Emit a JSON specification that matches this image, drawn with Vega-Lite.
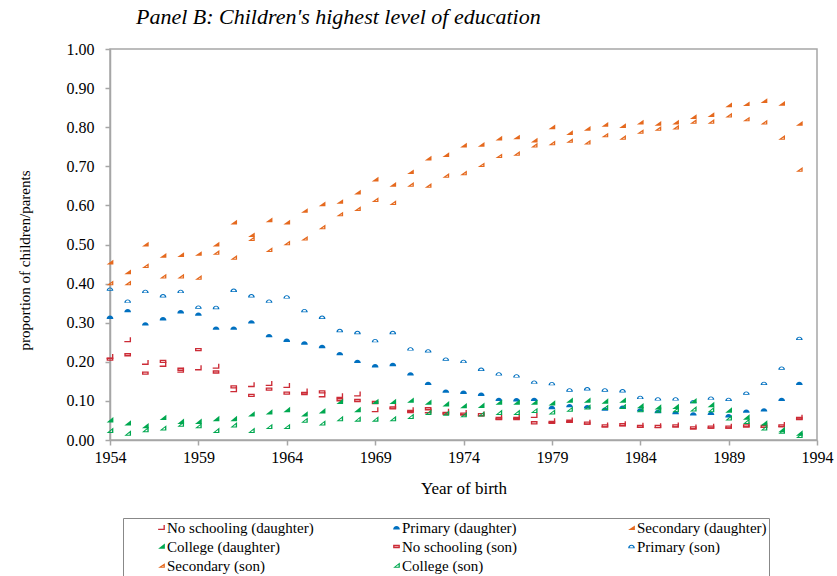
{
  "$schema": "https://vega.github.io/schema/vega-lite/v6.json",
  "width": 707,
  "height": 391,
  "autosize": {"type": "none"},
  "padding": {"left": 110, "top": 49, "right": 20, "bottom": 136},
  "background": "white",
  "title": {
    "text": "Panel B: Children's highest level of education",
    "anchor": "start",
    "frame": "group",
    "dx": 26,
    "dy": 26,
    "offset": 21,
    "baseline": "alphabetic",
    "font": "Liberation Serif",
    "fontSize": 22,
    "fontStyle": "italic",
    "fontWeight": "normal",
    "color": "black"
  },
  "config": {
    "font": "Liberation Serif",
    "style": {"guide-label": {"font": "Liberation Serif"}, "guide-title": {"font": "Liberation Serif"}},
    "view": {"stroke": "#A6A6A6", "strokeWidth": 1.5},
    "axis": {
      "domainColor": "#A6A6A6",
      "domainWidth": 1.5,
      "tickColor": "#A6A6A6",
      "tickWidth": 1.5,
      "tickSize": 5,
      "grid": false,
      "labelFont": "Liberation Serif",
      "labelFontSize": 16,
      "labelColor": "black",
      "titleFont": "Liberation Serif",
      "titleFontWeight": "normal",
      "titleColor": "black"
    },
    "legend": {
      "orient": "none",
      "legendX": 13,
      "legendY": 469,
      "columns": 3,
      "gridAlign": "all",
      "columnPadding": 46,
      "rowPadding": 3,
      "padding": 2,
      "strokeColor": "#888888",
      "symbolSize": 45,
      "symbolOffset": 29,
      "labelOffset": -2,
      "symbolStrokeWidth": 0,
      "labelFont": "Liberation Serif",
      "labelFontSize": 15,
      "labelColor": "black",
      "labelLimit": 300
    }
  },
  "data": {
    "values": [
      {"year":1954,"series":"No schooling (daughter)","value":0.213},{"year":1955,"series":"No schooling (daughter)","value":0.256},{"year":1956,"series":"No schooling (daughter)","value":0.198},{"year":1957,"series":"No schooling (daughter)","value":0.193},{"year":1958,"series":"No schooling (daughter)","value":0.178},{"year":1959,"series":"No schooling (daughter)","value":0.184},{"year":1960,"series":"No schooling (daughter)","value":0.188},{"year":1961,"series":"No schooling (daughter)","value":0.128},{"year":1962,"series":"No schooling (daughter)","value":0.141},{"year":1963,"series":"No schooling (daughter)","value":0.144},{"year":1964,"series":"No schooling (daughter)","value":0.139},{"year":1965,"series":"No schooling (daughter)","value":0.125},{"year":1966,"series":"No schooling (daughter)","value":0.115},{"year":1967,"series":"No schooling (daughter)","value":0.113},{"year":1968,"series":"No schooling (daughter)","value":0.117},{"year":1969,"series":"No schooling (daughter)","value":0.077},{"year":1970,"series":"No schooling (daughter)","value":0.086},{"year":1971,"series":"No schooling (daughter)","value":0.077},{"year":1972,"series":"No schooling (daughter)","value":0.074},{"year":1973,"series":"No schooling (daughter)","value":0.073},{"year":1974,"series":"No schooling (daughter)","value":0.070},{"year":1975,"series":"No schooling (daughter)","value":0.066},{"year":1976,"series":"No schooling (daughter)","value":0.058},{"year":1977,"series":"No schooling (daughter)","value":0.059},{"year":1978,"series":"No schooling (daughter)","value":0.062},{"year":1979,"series":"No schooling (daughter)","value":0.049},{"year":1980,"series":"No schooling (daughter)","value":0.051},{"year":1981,"series":"No schooling (daughter)","value":0.045},{"year":1982,"series":"No schooling (daughter)","value":0.038},{"year":1983,"series":"No schooling (daughter)","value":0.041},{"year":1984,"series":"No schooling (daughter)","value":0.037},{"year":1985,"series":"No schooling (daughter)","value":0.036},{"year":1986,"series":"No schooling (daughter)","value":0.038},{"year":1987,"series":"No schooling (daughter)","value":0.033},{"year":1988,"series":"No schooling (daughter)","value":0.035},{"year":1989,"series":"No schooling (daughter)","value":0.035},{"year":1990,"series":"No schooling (daughter)","value":0.038},{"year":1991,"series":"No schooling (daughter)","value":0.037},{"year":1992,"series":"No schooling (daughter)","value":0.039},{"year":1993,"series":"No schooling (daughter)","value":0.058},
      {"year":1954,"series":"No schooling (son)","value":0.207},{"year":1955,"series":"No schooling (son)","value":0.218},{"year":1956,"series":"No schooling (son)","value":0.171},{"year":1957,"series":"No schooling (son)","value":0.201},{"year":1958,"series":"No schooling (son)","value":0.181},{"year":1959,"series":"No schooling (son)","value":0.231},{"year":1960,"series":"No schooling (son)","value":0.174},{"year":1961,"series":"No schooling (son)","value":0.136},{"year":1962,"series":"No schooling (son)","value":0.114},{"year":1963,"series":"No schooling (son)","value":0.130},{"year":1964,"series":"No schooling (son)","value":0.120},{"year":1965,"series":"No schooling (son)","value":0.119},{"year":1966,"series":"No schooling (son)","value":0.123},{"year":1967,"series":"No schooling (son)","value":0.103},{"year":1968,"series":"No schooling (son)","value":0.101},{"year":1969,"series":"No schooling (son)","value":0.096},{"year":1970,"series":"No schooling (son)","value":0.082},{"year":1971,"series":"No schooling (son)","value":0.073},{"year":1972,"series":"No schooling (son)","value":0.080},{"year":1973,"series":"No schooling (son)","value":0.068},{"year":1974,"series":"No schooling (son)","value":0.066},{"year":1975,"series":"No schooling (son)","value":0.065},{"year":1976,"series":"No schooling (son)","value":0.055},{"year":1977,"series":"No schooling (son)","value":0.055},{"year":1978,"series":"No schooling (son)","value":0.044},{"year":1979,"series":"No schooling (son)","value":0.045},{"year":1980,"series":"No schooling (son)","value":0.048},{"year":1981,"series":"No schooling (son)","value":0.043},{"year":1982,"series":"No schooling (son)","value":0.036},{"year":1983,"series":"No schooling (son)","value":0.039},{"year":1984,"series":"No schooling (son)","value":0.035},{"year":1985,"series":"No schooling (son)","value":0.035},{"year":1986,"series":"No schooling (son)","value":0.036},{"year":1987,"series":"No schooling (son)","value":0.031},{"year":1988,"series":"No schooling (son)","value":0.033},{"year":1989,"series":"No schooling (son)","value":0.033},{"year":1990,"series":"No schooling (son)","value":0.036},{"year":1991,"series":"No schooling (son)","value":0.035},{"year":1992,"series":"No schooling (son)","value":0.036},{"year":1993,"series":"No schooling (son)","value":0.055},
      {"year":1954,"series":"Primary (daughter)","value":0.314},{"year":1955,"series":"Primary (daughter)","value":0.331},{"year":1956,"series":"Primary (daughter)","value":0.297},{"year":1957,"series":"Primary (daughter)","value":0.310},{"year":1958,"series":"Primary (daughter)","value":0.328},{"year":1959,"series":"Primary (daughter)","value":0.322},{"year":1960,"series":"Primary (daughter)","value":0.286},{"year":1961,"series":"Primary (daughter)","value":0.286},{"year":1962,"series":"Primary (daughter)","value":0.302},{"year":1963,"series":"Primary (daughter)","value":0.267},{"year":1964,"series":"Primary (daughter)","value":0.255},{"year":1965,"series":"Primary (daughter)","value":0.248},{"year":1966,"series":"Primary (daughter)","value":0.239},{"year":1967,"series":"Primary (daughter)","value":0.221},{"year":1968,"series":"Primary (daughter)","value":0.201},{"year":1969,"series":"Primary (daughter)","value":0.190},{"year":1970,"series":"Primary (daughter)","value":0.193},{"year":1971,"series":"Primary (daughter)","value":0.169},{"year":1972,"series":"Primary (daughter)","value":0.145},{"year":1973,"series":"Primary (daughter)","value":0.125},{"year":1974,"series":"Primary (daughter)","value":0.122},{"year":1975,"series":"Primary (daughter)","value":0.117},{"year":1976,"series":"Primary (daughter)","value":0.104},{"year":1977,"series":"Primary (daughter)","value":0.103},{"year":1978,"series":"Primary (daughter)","value":0.104},{"year":1979,"series":"Primary (daughter)","value":0.083},{"year":1980,"series":"Primary (daughter)","value":0.088},{"year":1981,"series":"Primary (daughter)","value":0.085},{"year":1982,"series":"Primary (daughter)","value":0.079},{"year":1983,"series":"Primary (daughter)","value":0.084},{"year":1984,"series":"Primary (daughter)","value":0.077},{"year":1985,"series":"Primary (daughter)","value":0.073},{"year":1986,"series":"Primary (daughter)","value":0.070},{"year":1987,"series":"Primary (daughter)","value":0.067},{"year":1988,"series":"Primary (daughter)","value":0.068},{"year":1989,"series":"Primary (daughter)","value":0.062},{"year":1990,"series":"Primary (daughter)","value":0.074},{"year":1991,"series":"Primary (daughter)","value":0.077},{"year":1992,"series":"Primary (daughter)","value":0.104},{"year":1993,"series":"Primary (daughter)","value":0.145},
      {"year":1954,"series":"Primary (son)","value":0.386},{"year":1955,"series":"Primary (son)","value":0.355},{"year":1956,"series":"Primary (son)","value":0.380},{"year":1957,"series":"Primary (son)","value":0.369},{"year":1958,"series":"Primary (son)","value":0.380},{"year":1959,"series":"Primary (son)","value":0.340},{"year":1960,"series":"Primary (son)","value":0.339},{"year":1961,"series":"Primary (son)","value":0.383},{"year":1962,"series":"Primary (son)","value":0.369},{"year":1963,"series":"Primary (son)","value":0.355},{"year":1964,"series":"Primary (son)","value":0.366},{"year":1965,"series":"Primary (son)","value":0.331},{"year":1966,"series":"Primary (son)","value":0.314},{"year":1967,"series":"Primary (son)","value":0.280},{"year":1968,"series":"Primary (son)","value":0.275},{"year":1969,"series":"Primary (son)","value":0.254},{"year":1970,"series":"Primary (son)","value":0.275},{"year":1971,"series":"Primary (son)","value":0.233},{"year":1972,"series":"Primary (son)","value":0.228},{"year":1973,"series":"Primary (son)","value":0.207},{"year":1974,"series":"Primary (son)","value":0.201},{"year":1975,"series":"Primary (son)","value":0.181},{"year":1976,"series":"Primary (son)","value":0.169},{"year":1977,"series":"Primary (son)","value":0.164},{"year":1978,"series":"Primary (son)","value":0.148},{"year":1979,"series":"Primary (son)","value":0.144},{"year":1980,"series":"Primary (son)","value":0.128},{"year":1981,"series":"Primary (son)","value":0.131},{"year":1982,"series":"Primary (son)","value":0.128},{"year":1983,"series":"Primary (son)","value":0.126},{"year":1984,"series":"Primary (son)","value":0.109},{"year":1985,"series":"Primary (son)","value":0.105},{"year":1986,"series":"Primary (son)","value":0.105},{"year":1987,"series":"Primary (son)","value":0.098},{"year":1988,"series":"Primary (son)","value":0.107},{"year":1989,"series":"Primary (son)","value":0.104},{"year":1990,"series":"Primary (son)","value":0.120},{"year":1991,"series":"Primary (son)","value":0.145},{"year":1992,"series":"Primary (son)","value":0.184},{"year":1993,"series":"Primary (son)","value":0.260},
      {"year":1954,"series":"Secondary (daughter)","value":0.455},{"year":1955,"series":"Secondary (daughter)","value":0.430},{"year":1956,"series":"Secondary (daughter)","value":0.501},{"year":1957,"series":"Secondary (daughter)","value":0.472},{"year":1958,"series":"Secondary (daughter)","value":0.474},{"year":1959,"series":"Secondary (daughter)","value":0.477},{"year":1960,"series":"Secondary (daughter)","value":0.501},{"year":1961,"series":"Secondary (daughter)","value":0.557},{"year":1962,"series":"Secondary (daughter)","value":0.525},{"year":1963,"series":"Secondary (daughter)","value":0.563},{"year":1964,"series":"Secondary (daughter)","value":0.557},{"year":1965,"series":"Secondary (daughter)","value":0.587},{"year":1966,"series":"Secondary (daughter)","value":0.604},{"year":1967,"series":"Secondary (daughter)","value":0.610},{"year":1968,"series":"Secondary (daughter)","value":0.634},{"year":1969,"series":"Secondary (daughter)","value":0.667},{"year":1970,"series":"Secondary (daughter)","value":0.654},{"year":1971,"series":"Secondary (daughter)","value":0.686},{"year":1972,"series":"Secondary (daughter)","value":0.721},{"year":1973,"series":"Secondary (daughter)","value":0.730},{"year":1974,"series":"Secondary (daughter)","value":0.754},{"year":1975,"series":"Secondary (daughter)","value":0.756},{"year":1976,"series":"Secondary (daughter)","value":0.772},{"year":1977,"series":"Secondary (daughter)","value":0.775},{"year":1978,"series":"Secondary (daughter)","value":0.767},{"year":1979,"series":"Secondary (daughter)","value":0.801},{"year":1980,"series":"Secondary (daughter)","value":0.786},{"year":1981,"series":"Secondary (daughter)","value":0.797},{"year":1982,"series":"Secondary (daughter)","value":0.807},{"year":1983,"series":"Secondary (daughter)","value":0.804},{"year":1984,"series":"Secondary (daughter)","value":0.813},{"year":1985,"series":"Secondary (daughter)","value":0.810},{"year":1986,"series":"Secondary (daughter)","value":0.813},{"year":1987,"series":"Secondary (daughter)","value":0.827},{"year":1988,"series":"Secondary (daughter)","value":0.832},{"year":1989,"series":"Secondary (daughter)","value":0.857},{"year":1990,"series":"Secondary (daughter)","value":0.860},{"year":1991,"series":"Secondary (daughter)","value":0.868},{"year":1992,"series":"Secondary (daughter)","value":0.861},{"year":1993,"series":"Secondary (daughter)","value":0.810},
      {"year":1954,"series":"Secondary (son)","value":0.402},{"year":1955,"series":"Secondary (son)","value":0.402},{"year":1956,"series":"Secondary (son)","value":0.446},{"year":1957,"series":"Secondary (son)","value":0.419},{"year":1958,"series":"Secondary (son)","value":0.419},{"year":1959,"series":"Secondary (son)","value":0.416},{"year":1960,"series":"Secondary (son)","value":0.480},{"year":1961,"series":"Secondary (son)","value":0.467},{"year":1962,"series":"Secondary (son)","value":0.515},{"year":1963,"series":"Secondary (son)","value":0.487},{"year":1964,"series":"Secondary (son)","value":0.504},{"year":1965,"series":"Secondary (son)","value":0.516},{"year":1966,"series":"Secondary (son)","value":0.545},{"year":1967,"series":"Secondary (son)","value":0.578},{"year":1968,"series":"Secondary (son)","value":0.592},{"year":1969,"series":"Secondary (son)","value":0.615},{"year":1970,"series":"Secondary (son)","value":0.607},{"year":1971,"series":"Secondary (son)","value":0.654},{"year":1972,"series":"Secondary (son)","value":0.651},{"year":1973,"series":"Secondary (son)","value":0.677},{"year":1974,"series":"Secondary (son)","value":0.683},{"year":1975,"series":"Secondary (son)","value":0.704},{"year":1976,"series":"Secondary (son)","value":0.727},{"year":1977,"series":"Secondary (son)","value":0.733},{"year":1978,"series":"Secondary (son)","value":0.754},{"year":1979,"series":"Secondary (son)","value":0.760},{"year":1980,"series":"Secondary (son)","value":0.766},{"year":1981,"series":"Secondary (son)","value":0.762},{"year":1982,"series":"Secondary (son)","value":0.780},{"year":1983,"series":"Secondary (son)","value":0.774},{"year":1984,"series":"Secondary (son)","value":0.789},{"year":1985,"series":"Secondary (son)","value":0.797},{"year":1986,"series":"Secondary (son)","value":0.800},{"year":1987,"series":"Secondary (son)","value":0.815},{"year":1988,"series":"Secondary (son)","value":0.815},{"year":1989,"series":"Secondary (son)","value":0.831},{"year":1990,"series":"Secondary (son)","value":0.821},{"year":1991,"series":"Secondary (son)","value":0.813},{"year":1992,"series":"Secondary (son)","value":0.774},{"year":1993,"series":"Secondary (son)","value":0.692},
      {"year":1954,"series":"College (daughter)","value":0.051},{"year":1955,"series":"College (daughter)","value":0.043},{"year":1956,"series":"College (daughter)","value":0.036},{"year":1957,"series":"College (daughter)","value":0.057},{"year":1958,"series":"College (daughter)","value":0.047},{"year":1959,"series":"College (daughter)","value":0.047},{"year":1960,"series":"College (daughter)","value":0.054},{"year":1961,"series":"College (daughter)","value":0.054},{"year":1962,"series":"College (daughter)","value":0.066},{"year":1963,"series":"College (daughter)","value":0.071},{"year":1964,"series":"College (daughter)","value":0.077},{"year":1965,"series":"College (daughter)","value":0.066},{"year":1966,"series":"College (daughter)","value":0.074},{"year":1967,"series":"College (daughter)","value":0.098},{"year":1968,"series":"College (daughter)","value":0.077},{"year":1969,"series":"College (daughter)","value":0.098},{"year":1970,"series":"College (daughter)","value":0.098},{"year":1971,"series":"College (daughter)","value":0.101},{"year":1972,"series":"College (daughter)","value":0.096},{"year":1973,"series":"College (daughter)","value":0.092},{"year":1974,"series":"College (daughter)","value":0.087},{"year":1975,"series":"College (daughter)","value":0.088},{"year":1976,"series":"College (daughter)","value":0.096},{"year":1977,"series":"College (daughter)","value":0.096},{"year":1978,"series":"College (daughter)","value":0.096},{"year":1979,"series":"College (daughter)","value":0.094},{"year":1980,"series":"College (daughter)","value":0.101},{"year":1981,"series":"College (daughter)","value":0.101},{"year":1982,"series":"College (daughter)","value":0.099},{"year":1983,"series":"College (daughter)","value":0.101},{"year":1984,"series":"College (daughter)","value":0.087},{"year":1985,"series":"College (daughter)","value":0.084},{"year":1986,"series":"College (daughter)","value":0.085},{"year":1987,"series":"College (daughter)","value":0.100},{"year":1988,"series":"College (daughter)","value":0.090},{"year":1989,"series":"College (daughter)","value":0.076},{"year":1990,"series":"College (daughter)","value":0.058},{"year":1991,"series":"College (daughter)","value":0.043},{"year":1992,"series":"College (daughter)","value":0.026},{"year":1993,"series":"College (daughter)","value":0.017},
      {"year":1954,"series":"College (son)","value":0.024},{"year":1955,"series":"College (son)","value":0.017},{"year":1956,"series":"College (son)","value":0.026},{"year":1957,"series":"College (son)","value":0.030},{"year":1958,"series":"College (son)","value":0.040},{"year":1959,"series":"College (son)","value":0.036},{"year":1960,"series":"College (son)","value":0.024},{"year":1961,"series":"College (son)","value":0.038},{"year":1962,"series":"College (son)","value":0.024},{"year":1963,"series":"College (son)","value":0.034},{"year":1964,"series":"College (son)","value":0.034},{"year":1965,"series":"College (son)","value":0.050},{"year":1966,"series":"College (son)","value":0.043},{"year":1967,"series":"College (son)","value":0.054},{"year":1968,"series":"College (son)","value":0.053},{"year":1969,"series":"College (son)","value":0.053},{"year":1970,"series":"College (son)","value":0.054},{"year":1971,"series":"College (son)","value":0.060},{"year":1972,"series":"College (son)","value":0.070},{"year":1973,"series":"College (son)","value":0.068},{"year":1974,"series":"College (son)","value":0.064},{"year":1975,"series":"College (son)","value":0.066},{"year":1976,"series":"College (son)","value":0.070},{"year":1977,"series":"College (son)","value":0.070},{"year":1978,"series":"College (son)","value":0.075},{"year":1979,"series":"College (son)","value":0.071},{"year":1980,"series":"College (son)","value":0.078},{"year":1981,"series":"College (son)","value":0.084},{"year":1982,"series":"College (son)","value":0.083},{"year":1983,"series":"College (son)","value":0.085},{"year":1984,"series":"College (son)","value":0.077},{"year":1985,"series":"College (son)","value":0.076},{"year":1986,"series":"College (son)","value":0.077},{"year":1987,"series":"College (son)","value":0.079},{"year":1988,"series":"College (son)","value":0.077},{"year":1989,"series":"College (son)","value":0.056},{"year":1990,"series":"College (son)","value":0.047},{"year":1991,"series":"College (son)","value":0.030},{"year":1992,"series":"College (son)","value":0.022},{"year":1993,"series":"College (son)","value":0.011}
    ]
  },
  "mark": {"type": "point", "filled": true, "size": 45, "opacity": 1, "strokeWidth": 0},
  "encoding": {
    "x": {
      "field": "year",
      "type": "quantitative",
      "scale": {"domain": [1954, 1994], "nice": false, "zero": false},
      "axis": {
        "values": [1954, 1959, 1964, 1969, 1974, 1979, 1984, 1989, 1994],
        "format": "d",
        "labelFont": "Liberation Serif",
        "labelFontSize": 16,
        "labelFlush": false,
        "labelOverlap": false,
        "labelPadding": 4,
        "title": "Year of birth",
        "titleFontSize": 17,
        "titleY": 40
      }
    },
    "y": {
      "field": "value",
      "type": "quantitative",
      "scale": {"domain": [0, 1], "nice": false},
      "axis": {
        "values": [0, 0.1, 0.2, 0.3, 0.4, 0.5, 0.6, 0.7, 0.8, 0.9, 1],
        "format": ".2f",
        "labelFont": "Liberation Serif",
        "labelFontSize": 16,
        "labelFlush": false,
        "labelOverlap": false,
        "labelPadding": 11,
        "title": "proportion of children/parents",
        "titleFontSize": 15,
        "titleX": -78,
        "titleY": 211
      }
    },
    "color": {
      "field": "series",
      "type": "nominal",
      "scale": {
        "domain": ["No schooling (daughter)", "College (daughter)", "Secondary (son)", "Primary (daughter)", "No schooling (son)", "College (son)", "Secondary (daughter)", "Primary (son)"],
        "range": ["#CC2B36", "#00A850", "#E5691E", "#0070C0", "#CC2B36", "#00A850", "#E5691E", "#0070C0"]
      },
      "legend": {"title": null}
    },
    "shape": {
      "field": "series",
      "type": "nominal",
      "scale": {
        "domain": ["No schooling (daughter)", "College (daughter)", "Secondary (son)", "Primary (daughter)", "No schooling (son)", "College (son)", "Secondary (daughter)", "Primary (son)"],
        "range": [
          "M-1,0.3L0.6,0.3L0.6,-0.8L1,-0.8L1,0.7L-1,0.7Z",
          "M1,-0.9L1,0.7L-1,0.7Z",
          "M1,-0.7L1,0.7L-1,0.7ZM0.6,0.05L0.05,0.4L0.6,0.4Z",
          "M-1,0.5A1,1 0 0 1 1,0.5Z",
          "M-1,-0.5H1V0.5H-1ZM-0.6,-0.1V0.1H0.6V-0.1Z",
          "M1,-0.9L1,0.7L-1,0.7ZM0.6,-0.2L-0.2,0.4L0.6,0.4Z",
          "M1,-0.7L1,0.7L-1,0.7Z",
          "M-1,0.5A1,1 0 0 1 1,0.5ZM0.55,0.3A0.55,0.55 0 0 0 -0.55,0.3Z"
        ]
      },
      "legend": {"title": null}
    }
  }
}
